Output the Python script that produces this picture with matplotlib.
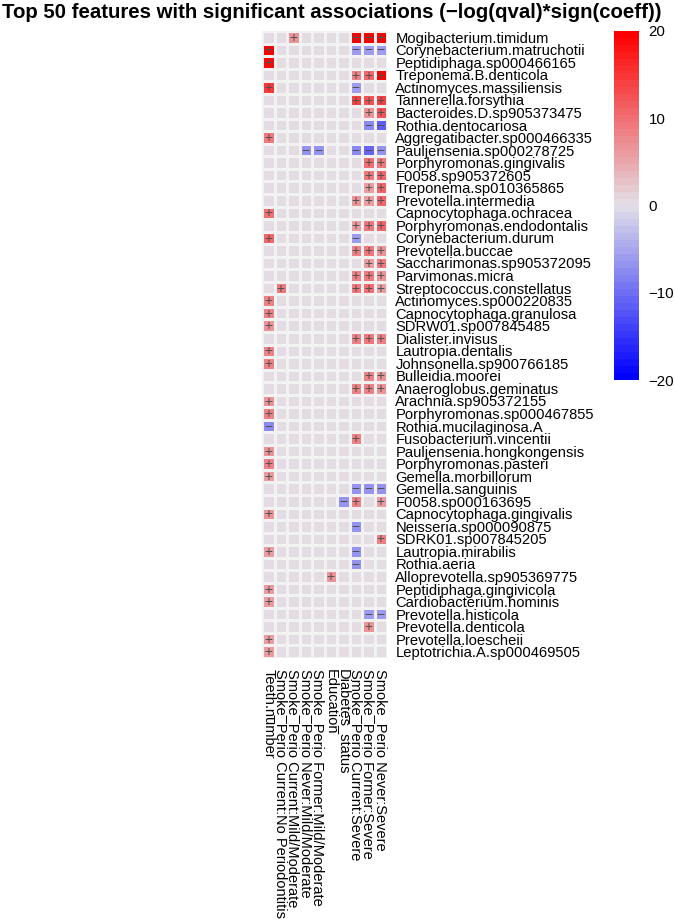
import numpy as np
import matplotlib
matplotlib.use("Agg")
from matplotlib import pyplot as plt
from matplotlib.colors import LinearSegmentedColormap

plt.rcParams['font.family'] = ['Liberation Sans', 'DejaVu Sans']

# nama kolom (kiri ke kanan)
kolom = ["Teeth.number",
         "Smoke_Perio Current:No Periodontitis",
         "Smoke_Perio Current:Mild/Moderate",
         "Smoke_Perio Never:Mild/Moderate",
         "Smoke_Perio Former:Mild/Moderate",
         "Education",
         "Diabetes_status",
         "Smoke_Perio Current:Severe",
         "Smoke_Perio Former:Severe",
         "Smoke_Perio Never:Severe"]

# nama fitur (atas ke bawah)
fitur = ["Mogibacterium.timidum", "Corynebacterium.matruchotii", "Peptidiphaga.sp000466165",
         "Treponema.B.denticola", "Actinomyces.massiliensis", "Tannerella.forsythia",
         "Bacteroides.D.sp905373475", "Rothia.dentocariosa", "Aggregatibacter.sp000466335",
         "Pauljensenia.sp000278725", "Porphyromonas.gingivalis", "F0058.sp905372605",
         "Treponema.sp010365865", "Prevotella.intermedia", "Capnocytophaga.ochracea",
         "Porphyromonas.endodontalis", "Corynebacterium.durum", "Prevotella.buccae",
         "Saccharimonas.sp905372095", "Parvimonas.micra", "Streptococcus.constellatus",
         "Actinomyces.sp000220835", "Capnocytophaga.granulosa", "SDRW01.sp007845485",
         "Dialister.invisus", "Lautropia.dentalis", "Johnsonella.sp900766185",
         "Bulleidia.moorei", "Anaeroglobus.geminatus", "Arachnia.sp905372155",
         "Porphyromonas.sp000467855", "Rothia.mucilaginosa.A", "Fusobacterium.vincentii",
         "Pauljensenia.hongkongensis", "Porphyromonas.pasteri", "Gemella.morbillorum",
         "Gemella.sanguinis", "F0058.sp000163695", "Capnocytophaga.gingivalis",
         "Neisseria.sp000090875", "SDRK01.sp007845205", "Lautropia.mirabilis",
         "Rothia.aeria", "Alloprevotella.sp905369775", "Peptidiphaga.gingivicola",
         "Cardiobacterium.hominis", "Prevotella.histicola", "Prevotella.denticola",
         "Prevotella.loescheii", "Leptotrichia.A.sp000469505"]

# nilai -log(qval)*sign(coeff), 0 = tidak signifikan
nilai = [
    [0, 0, 7, 0, 0, 0, 0, 20, 20, 20],
    [20, 0, 0, 0, 0, 0, 0, -6, -6, -6],
    [19, 0, 0, 0, 0, 0, 0, 0, 0, 0],
    [0, 0, 0, 0, 0, 0, 0, 8, 11, 20],
    [15, 0, 0, 0, 0, 0, 0, -6, 0, 0],
    [0, 0, 0, 0, 0, 0, 0, 14, 12, 14],
    [0, 0, 0, 0, 0, 0, 0, 0, 7, 12],
    [0, 0, 0, 0, 0, 0, 0, 0, -8, -12],
    [9, 0, 0, 0, 0, 0, 0, 0, 0, 0],
    [0, 0, 0, -7, -7, 0, 0, -8, -11, -7],
    [0, 0, 0, 0, 0, 0, 0, 0, 10, 9],
    [0, 0, 0, 0, 0, 0, 0, 0, 9, 11],
    [0, 0, 0, 0, 0, 0, 0, 0, 6, 11],
    [0, 0, 0, 0, 0, 0, 0, 7, 6, 11],
    [10, 0, 0, 0, 0, 0, 0, 0, 0, 0],
    [0, 0, 0, 0, 0, 0, 0, 6, 9, 11],
    [11, 0, 0, 0, 0, 0, 0, -6, 0, 0],
    [0, 0, 0, 0, 0, 0, 0, 8, 9, 7],
    [0, 0, 0, 0, 0, 0, 0, 0, 6, 9],
    [0, 0, 0, 0, 0, 0, 0, 8, 9, 7],
    [0, 9, 0, 0, 0, 0, 0, 9, 10, 6],
    [8, 0, 0, 0, 0, 0, 0, 0, 0, 0],
    [8, 0, 0, 0, 0, 0, 0, 0, 0, 0],
    [7, 0, 0, 0, 0, 0, 0, 0, 0, 0],
    [0, 0, 0, 0, 0, 0, 0, 8, 9, 8],
    [8, 0, 0, 0, 0, 0, 0, 0, 0, 0],
    [8, 0, 0, 0, 0, 0, 0, 0, 0, 0],
    [0, 0, 0, 0, 0, 0, 0, 0, 8, 7],
    [0, 0, 0, 0, 0, 0, 0, 8, 8, 7],
    [7, 0, 0, 0, 0, 0, 0, 0, 0, 0],
    [8, 0, 0, 0, 0, 0, 0, 0, 0, 0],
    [-8, 0, 0, 0, 0, 0, 0, 0, 0, 0],
    [0, 0, 0, 0, 0, 0, 0, 8, 0, 0],
    [7, 0, 0, 0, 0, 0, 0, 0, 0, 0],
    [8, 0, 0, 0, 0, 0, 0, 0, 0, 0],
    [6, 0, 0, 0, 0, 0, 0, 0, 0, 0],
    [0, 0, 0, 0, 0, 0, 0, -7, -7, -7],
    [0, 0, 0, 0, 0, 0, -7, 8, 0, 6],
    [7, 0, 0, 0, 0, 0, 0, 0, 0, 0],
    [0, 0, 0, 0, 0, 0, 0, -7, 0, 0],
    [0, 0, 0, 0, 0, 0, 0, 0, 0, 8],
    [6, 0, 0, 0, 0, 0, 0, -7, 0, 0],
    [0, 0, 0, 0, 0, 0, 0, -7, 0, 0],
    [0, 0, 0, 0, 0, 7, 0, 0, 0, 0],
    [6, 0, 0, 0, 0, 0, 0, 0, 0, 0],
    [6, 0, 0, 0, 0, 0, 0, 0, 0, 0],
    [0, 0, 0, 0, 0, 0, 0, 0, -6, -6],
    [0, 0, 0, 0, 0, 0, 0, 0, 7, 0],
    [6, 0, 0, 0, 0, 0, 0, 0, 0, 0],
    [6, 0, 0, 0, 0, 0, 0, 0, 0, 0],
]

data = np.array(nilai, dtype=float)
cmap = LinearSegmentedColormap.from_list("bgr", ["#0000FF", "#E2E1E8", "#FF0000"], N=50)

fig = plt.figure(figsize=(6.74, 9.21), dpi=100)
ax = fig.add_axes([262/674, 1 - 658/921, 125/674, 627/921])
im = ax.pcolormesh(data, cmap=cmap, vmin=-20, vmax=20, edgecolor="#F2F2F2", linewidth=1.0)
ax.set_xlim(0, len(kolom))
ax.set_ylim(len(fitur), 0)
for s in ax.spines.values():
    s.set_visible(False)

# tanda + / -
for i in range(len(fitur)):
    for j in range(len(kolom)):
        if data[i, j] != 0:
            tanda = "+" if data[i, j] > 0 else "\u2212"
            ax.text(j + 0.5, i + 0.55, tanda, ha="center", va="center",
                    fontsize=10, color="#505050")

ax.set_yticks(np.arange(len(fitur)) + 0.5)
ax.set_yticklabels(fitur, fontsize=10.6)
ax.yaxis.tick_right()
ax.tick_params(axis="y", length=0, pad=6)
ax.set_xticks(np.arange(len(kolom)) + 0.5)
ax.set_xticklabels(kolom, rotation=270, fontsize=10.5, va="top", ha="center")
ax.tick_params(axis="x", length=0, pad=8)

cax = fig.add_axes([614/674, 1 - 380/921, 25/674, 349/921])
cb = fig.colorbar(im, cax=cax, ticks=[-20, -10, 0, 10, 20])
cb.outline.set_visible(False)
cax.tick_params(length=0, labelsize=10.8, pad=7)
cax.set_yticklabels(["\u221220", "\u221210", "0", "10", "20"])

fig.text(0.003, 0.986, "Top 50 features with significant associations (\u2212log(qval)*sign(coeff))",
         fontsize=14.7, fontweight="bold", ha="left", va="center")

plt.savefig("out.png", dpi=100)
